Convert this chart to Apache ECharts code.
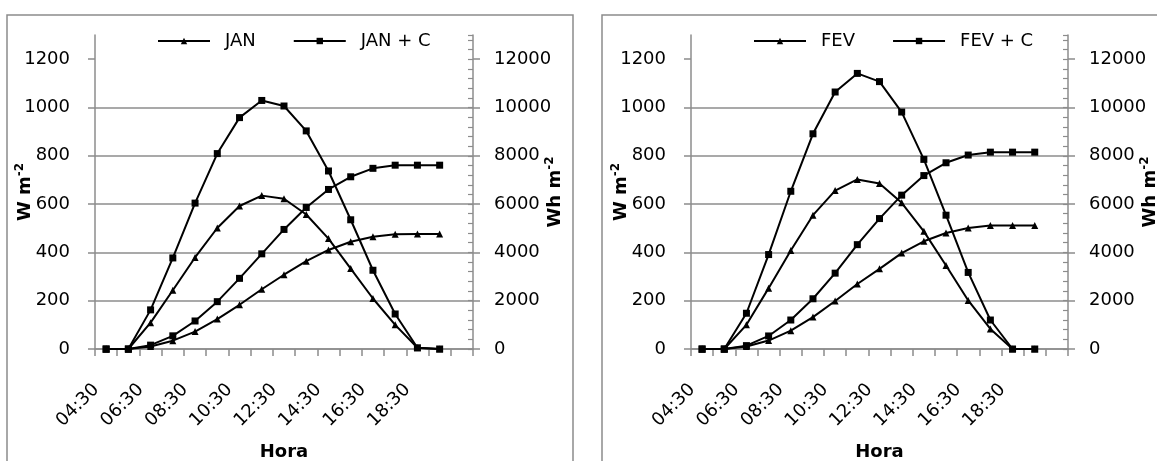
<!DOCTYPE html>
<html>
<head>
<meta charset="utf-8">
<script src="https://cdn.jsdelivr.net/npm/echarts@6/dist/echarts.min.js"></script>
<style>
html,body{margin:0;padding:0;background:#fff;}
#chart{width:1157px;height:461px;}
</style>
</head>
<body>
<div id="chart"></div>
<script>
// Categories (hourly), last category left blank as in the reference
const hours = ['04:30','05:30','06:30','07:30','08:30','09:30','10:30','11:30','12:30','13:30','14:30','15:30','16:30','17:30','18:30','19:30',''];

// Tick values
const leftTicks = [0, 200, 400, 600, 800, 1000, 1200];
const rightTicks = [0, 2000, 4000, 6000, 8000, 10000, 12000];

// JAN panel: irradiance (W m-2) and cumulative (Wh m-2)
const janW   = [0, 0, 109, 243, 379, 501, 592, 635, 622, 557, 457, 333, 209, 100, 5, 0];
const janCW  = [0, 0, 162, 377, 604, 809, 958, 1029, 1006, 903, 737, 535, 326, 145, 5, 0];
const janWh  = [0, 0, 100, 345, 720, 1240, 1830, 2475, 3075, 3635, 4100, 4440, 4650, 4755, 4760, 4760];
const janCWh = [0, 0, 160, 545, 1160, 1960, 2925, 3940, 4950, 5860, 6605, 7130, 7480, 7610, 7610, 7610];

// FEV panel
const fevW   = [0, 0, 100, 252, 408, 554, 656, 702, 685, 605, 487, 346, 201, 83, 0, 0];
const fevCW  = [0, 0, 148, 391, 653, 891, 1064, 1141, 1107, 981, 785, 554, 317, 120, 0, 0];
const fevWh  = [0, 0, 100, 350, 760, 1320, 1990, 2690, 3320, 3970, 4460, 4800, 5010, 5110, 5110, 5110];
const fevCWh = [0, 0, 140, 540, 1200, 2080, 3140, 4320, 5400, 6370, 7180, 7710, 8030, 8150, 8150, 8150];

const FONT = 'DejaVu Sans';
const GRAY = '#8c8c8c';

function xAxis(gi) {
  return {
    gridIndex: gi, type: 'category', data: hours, boundaryGap: true,
    axisLine: {show: true, lineStyle: {color: GRAY, width: 1.5}},
    axisTick: {show: true, interval: 0, length: 7, lineStyle: {color: GRAY, width: 1.5}},
    axisLabel: {interval: 1, rotate: 45, margin: 28, padding: [0, 14, 0, 0], color: '#000', fontFamily: FONT, fontSize: 18},
    splitLine: {show: false},
    name: 'Hora', nameLocation: 'middle', nameGap: 94, nameMoveOverlap: false,
    nameTextStyle: {color: '#000', fontFamily: FONT, fontSize: 18, fontWeight: 'bold', verticalAlign: 'top'}
  };
}
const richSup = {
  s: {fontSize: 12, fontWeight: 'bold', fontFamily: FONT, color: '#000', verticalAlign: 'top', lineHeight: 22}
};
function yLeft(gi) {
  return {
    gridIndex: gi, type: 'value', position: 'left', min: 0, max: 1300, interval: 200,
    axisLine: {show: true, lineStyle: {color: GRAY, width: 1.5}},
    axisTick: {show: true, length: 7, customValues: leftTicks, lineStyle: {color: GRAY, width: 1.5}},
    axisLabel: {customValues: leftTicks, margin: 25, color: '#000', fontFamily: FONT, fontSize: 18,
      formatter: v => (v > 1200 ? '' : String(v))},
    splitLine: {show: true, showMaxLine: false, lineStyle: {color: GRAY, width: 1.5}},
    name: 'W m{s|-2}', nameLocation: 'middle', nameRotate: 90, nameGap: 59, nameMoveOverlap: false,
    nameTextStyle: {color: '#000', fontFamily: FONT, fontSize: 18, fontWeight: 'bold', lineHeight: 22, rich: richSup}
  };
}
function yRight(gi) {
  return {
    gridIndex: gi, type: 'value', position: 'right', min: 0, max: 13000, interval: 2000,
    axisLine: {show: true, lineStyle: {color: GRAY, width: 1.5}},
    axisTick: {show: true, length: 7, customValues: rightTicks, lineStyle: {color: GRAY, width: 1.5}},
    axisLabel: {customValues: rightTicks, margin: 21, color: '#000', fontFamily: FONT, fontSize: 18,
      formatter: v => (v > 12000 ? '' : String(v))},
    splitLine: {show: false},
    name: 'Wh m{s|-2}', nameLocation: 'middle', nameRotate: 90, nameGap: 71, nameMoveOverlap: false,
    nameTextStyle: {color: '#000', fontFamily: FONT, fontSize: 18, fontWeight: 'bold', lineHeight: 22, rich: richSup}
  };
}
// Minor tick axis (inside ticks every 400 Wh m-2), sharing the right side
function yRightMinor(gi) {
  return {
    gridIndex: gi, type: 'value', position: 'right', min: 0, max: 13000, interval: 400,
    axisLine: {show: false},
    axisTick: {show: true, inside: true, length: 5, lineStyle: {color: GRAY, width: 1.2}},
    axisLabel: {show: false},
    splitLine: {show: false}
  };
}
function line(name, data, xi, yi, symbol) {
  return {
    type: 'line', name: name, data: data, xAxisIndex: xi, yAxisIndex: yi,
    symbol: symbol, symbolSize: 7, showSymbol: true,
    lineStyle: {color: '#000', width: 2}, itemStyle: {color: '#000'},
    emphasis: {disabled: true}, z: 3
  };
}
function legend(left, names) {
  return {
    left: left, top: 32, padding: 0, itemWidth: 52, itemHeight: 8, itemGap: 37,
    data: names, selectedMode: false,
    textStyle: {color: '#000', fontFamily: FONT, fontSize: 18, padding: [0, 0, 0, 10]}
  };
}

const chart = echarts.init(document.getElementById('chart'), null, {renderer: 'canvas'});
chart.setOption({
  animation: false,
  backgroundColor: '#fff',
  textStyle: {fontFamily: FONT},
  graphic: [
    {type: 'rect', shape: {x: 7, y: 15, width: 566, height: 520}, style: {fill: 'none', stroke: GRAY, lineWidth: 1.5}, silent: true},
    {type: 'rect', shape: {x: 602, y: 15, width: 620, height: 520}, style: {fill: 'none', stroke: GRAY, lineWidth: 1.5}, silent: true}
  ],
  legend: [legend(157, ['JAN', 'JAN + C']), legend(753, ['FEV', 'FEV + C'])],
  grid: [
    {left: 95, top: 35, width: 378, height: 314, containLabel: false, outerBoundsMode: 'none'},
    {left: 691, top: 35, width: 377, height: 314, containLabel: false, outerBoundsMode: 'none'}
  ],
  xAxis: [xAxis(0), xAxis(1)],
  yAxis: [yLeft(0), yRight(0), yRightMinor(0), yLeft(1), yRight(1), yRightMinor(1)],
  series: [
    line('JAN', janW, 0, 0, 'triangle'),
    line('JAN + C', janCW, 0, 0, 'rect'),
    line('JAN', janWh, 0, 1, 'triangle'),
    line('JAN + C', janCWh, 0, 1, 'rect'),
    line('FEV', fevW, 1, 3, 'triangle'),
    line('FEV + C', fevCW, 1, 3, 'rect'),
    line('FEV', fevWh, 1, 4, 'triangle'),
    line('FEV + C', fevCWh, 1, 4, 'rect')
  ]
});
</script>
</body>
</html>
